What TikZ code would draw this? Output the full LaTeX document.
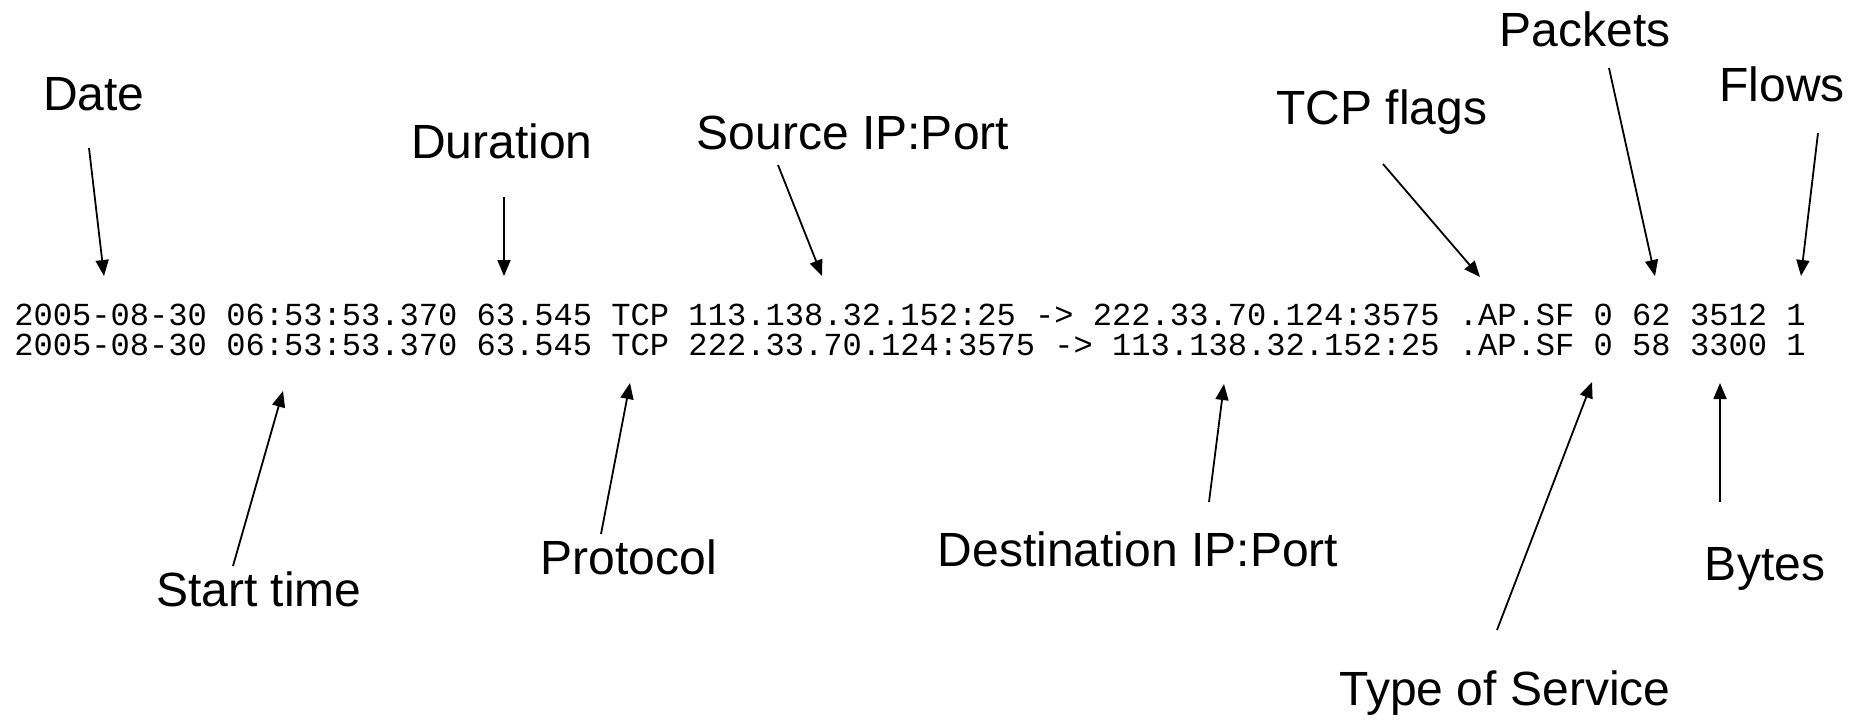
\documentclass[tikz,border=0pt]{standalone}
\usepackage{fontspec}
\setmainfont{Liberation Sans}
\setmonofont{Liberation Mono}
\usetikzlibrary{arrows.meta}
\begin{document}
\begin{tikzpicture}[x=0.5pt,y=-0.5pt,
  lbl/.style={font=\fontsize{24}{28}\selectfont, inner sep=0pt, anchor=base},
  rec/.style={font=\ttfamily\fontsize{16.05}{19}\selectfont, inner sep=0pt, anchor=west},
  ptr/.style={-{Triangle[length=8pt,width=6.5pt]}, line width=0.9pt}]
\useasboundingbox (0,0) rectangle (1870,719);
\node[rec] (r1) at (14,315) {2005-08-30 06:53:53.370 63.545 TCP 113.138.32.152:25 -> 222.33.70.124:3575 .AP.SF 0 62 3512 1};
\node[rec] (r2) at (14,345) {2005-08-30 06:53:53.370 63.545 TCP 222.33.70.124:3575 -> 113.138.32.152:25 .AP.SF 0 58 3300 1};
% top labels
\node[lbl] (date) at (94,110) {Date};
\node[lbl] (dur) at (502,158) {Duration};
\node[lbl] (src) at (853,149) {Source IP:Port};
\node[lbl] (flags) at (1382,124) {TCP flags};
\node[lbl] (pkts) at (1585,46) {Packets};
\node[lbl] (flows) at (1782,101) {Flows};
% bottom labels
\node[lbl] (start) at (259,606) {Start time};
\node[lbl] (proto) at (629,574) {Protocol};
\node[lbl] (dst) at (1138,566) {Destination IP:Port};
\node[lbl] (bytes) at (1765,580) {Bytes};
\node[lbl] (tos) at (1505,705) {Type of Service};
% connector ends
\coordinate (dateT) at (89,148);   \coordinate (dateH) at (104,276);
\coordinate (durT) at (504,197);   \coordinate (durH) at (504,276);
\coordinate (srcT) at (778,165);   \coordinate (srcH) at (822,276);
\coordinate (flagsT) at (1383,164); \coordinate (flagsH) at (1480,277);
\coordinate (pktsT) at (1609,68);  \coordinate (pktsH) at (1655,276);
\coordinate (flowsT) at (1818,133); \coordinate (flowsH) at (1801,276);
\coordinate (startT) at (233,566); \coordinate (startH) at (283,391);
\coordinate (protoT) at (601,534); \coordinate (protoH) at (630,383);
\coordinate (dstT) at (1209,502);  \coordinate (dstH) at (1224,384);
\coordinate (tosT) at (1497,630);  \coordinate (tosH) at (1592,382);
\coordinate (bytesT) at (1720,502); \coordinate (bytesH) at (1720,383);
\draw[ptr] (dateT) -- (dateH);
\draw[ptr] (durT) -- (durH);
\draw[ptr] (srcT) -- (srcH);
\draw[ptr] (flagsT) -- (flagsH);
\draw[ptr] (pktsT) -- (pktsH);
\draw[ptr] (flowsT) -- (flowsH);
\draw[ptr] (startT) -- (startH);
\draw[ptr] (protoT) -- (protoH);
\draw[ptr] (dstT) -- (dstH);
\draw[ptr] (tosT) -- (tosH);
\draw[ptr] (bytesT) -- (bytesH);
\end{tikzpicture}
\end{document}
